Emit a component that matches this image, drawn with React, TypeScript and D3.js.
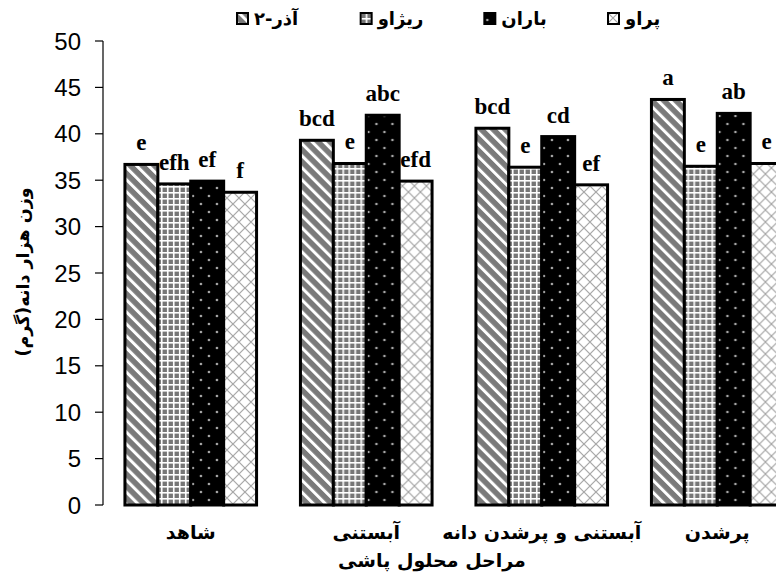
import React from "react";
import * as d3 from "d3";

const categories = ["شاهد", "آبستنی", "آبستنی و پرشدن دانه", "پرشدن"];
const seriesNames = ["آذر-۲", "ریژاو", "باران", "پراو"];
const azar2 = [36.7, 39.3, 40.6, 43.7];
const rizhav = [34.6, 36.8, 36.4, 36.5];
const baran = [34.9, 42.0, 39.7, 42.2];
const parav = [33.7, 34.9, 34.5, 36.8];
const azar2Letters = ["e", "bcd", "bcd", "a"];
const rizhavLetters = ["efh", "e", "e", "e"];
const baranLetters = ["ef", "abc", "cd", "ab"];
const paravLetters = ["f", "efd", "ef", "e"];
const yTicks = [0, 5, 10, 15, 20, 25, 30, 35, 40, 45, 50];
const yTitle = "وزن هزار دانه(گرم)";
const xTitle = "مراحل محلول پاشی";

const seriesValues = [azar2, rizhav, baran, parav];
const seriesLetters = [azar2Letters, rizhavLetters, baranLetters, paravLetters];
const patternIds = ["pStripe", "pGrid", "pDots", "pCross"];

const W = 776;
const H = 576;
const faFont = "'DejaVu Sans', sans-serif";

export default function App() {
  const x0 = d3
    .scaleBand<string>()
    .domain(categories)
    .range([103, 805])
    .paddingInner(0.25)
    .paddingOuter(0.125);
  const x1 = d3
    .scaleBand<string>()
    .domain(seriesNames)
    .range([0, x0.bandwidth()])
    .padding(0);
  const y = d3.scaleLinear().domain([0, 50]).range([505, 41]);
  const legendX = d3.scaleLinear().domain([0, 3]).range([236, 607]);

  return (
    <svg
      width={W}
      height={H}
      style={{ position: "absolute", left: 0, top: 0, background: "#fff" }}
    >
      <defs>
        <pattern
          id="pStripe"
          patternUnits="userSpaceOnUse"
          width={8.5}
          height={8.5}
          patternTransform="rotate(-45)"
        >
          <rect width={8.5} height={8.5} fill="#7a7a7a" />
          <rect x={0} width={3} height={8.5} fill="#fff" />
        </pattern>
        <pattern id="pGrid" patternUnits="userSpaceOnUse" width={6} height={6}>
          <rect width={6} height={6} fill="#fff" />
          <rect x={1.6} y={1.6} width={4.4} height={4.4} fill="#767676" />
        </pattern>
        <pattern id="pDots" patternUnits="userSpaceOnUse" width={16} height={16}>
          <rect width={16} height={16} fill="#000" />
          <circle cx={4} cy={4} r={1.3} fill="#a8a8a8" />
          <circle cx={12} cy={12} r={1.3} fill="#a8a8a8" />
        </pattern>
        <pattern id="pCross" patternUnits="userSpaceOnUse" width={12} height={12}>
          <rect width={12} height={12} fill="#fff" />
          <path d="M0,0 L12,12 M12,0 L0,12" stroke="#a4a4a4" strokeWidth={1.2} />
        </pattern>
      </defs>

      {/* legend */}
      {seriesNames.map((s, i) => (
        <g key={s} transform={`translate(${legendX(i)},0)`}>
          <rect
            x={1}
            y={13}
            width={11}
            height={11}
            fill={`url(#${patternIds[i]})`}
            stroke="#000"
            strokeWidth={2}
          />
          <text
            x={18}
            y={25}
            direction="rtl"
            textAnchor="end"
            fontFamily={faFont}
            fontWeight="bold"
            fontSize={18}
          >
            {s}
          </text>
        </g>
      ))}

      {/* y axis */}
      <line x1={103} x2={103} y1={y(50)} y2={y(0)} stroke="#000" strokeWidth={1.2} />
      {yTicks.map((t) => (
        <g key={t}>
          <line x1={95} x2={103} y1={y(t)} y2={y(t)} stroke="#000" strokeWidth={1.2} />
          <text
            x={81}
            y={y(t)}
            dy="0.36em"
            textAnchor="end"
            fontFamily="'Liberation Sans', Arial, sans-serif"
            fontSize={24}
          >
            {t}
          </text>
        </g>
      ))}

      {/* bars */}
      {categories.map((c, ci) => (
        <g key={c} transform={`translate(${x0(c)},0)`}>
          {seriesNames.map((s, si) => {
            const v = seriesValues[si][ci];
            return (
              <rect
                key={s}
                x={x1(s)}
                y={y(v)}
                width={x1.bandwidth()}
                height={y(0) - y(v)}
                fill={`url(#${patternIds[si]})`}
                stroke="#000"
                strokeWidth={3}
              />
            );
          })}
          {seriesNames.map((s, si) => {
            const v = seriesValues[si][ci];
            return (
              <text
                key={s + "l"}
                x={(x1(s) as number) + x1.bandwidth() / 2}
                y={y(v) - 14}
                textAnchor="middle"
                fontFamily="'Liberation Serif', 'Times New Roman', serif"
                fontWeight="bold"
                fontSize={23}
              >
                {seriesLetters[si][ci]}
              </text>
            );
          })}
        </g>
      ))}

      {/* category labels */}
      {categories.map((c) => (
        <text
          key={c}
          x={(x0(c) as number) + x0.bandwidth() / 2}
          y={539}
          direction="rtl"
          textAnchor="middle"
          fontFamily={faFont}
          fontWeight="bold"
          fontSize={19}
        >
          {c}
        </text>
      ))}

      {/* axis titles */}
      <text
        x={432}
        y={567}
        direction="rtl"
        textAnchor="middle"
        fontFamily={faFont}
        fontWeight="bold"
        fontSize={19}
      >
        {xTitle}
      </text>
      <text
        transform={`translate(29,272) rotate(-90)`}
        direction="rtl"
        textAnchor="middle"
        fontFamily={faFont}
        fontWeight="bold"
        fontSize={17.5}
      >
        {yTitle}
      </text>
    </svg>
  );
}
